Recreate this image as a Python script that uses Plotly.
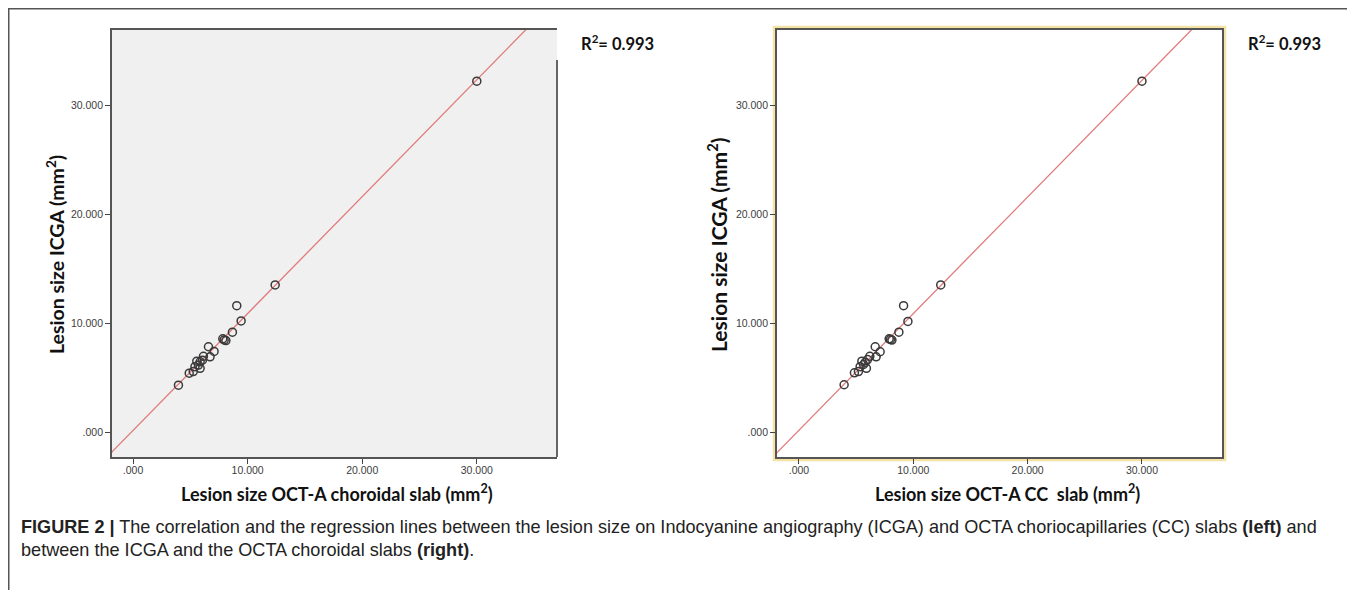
import numpy as np
import plotly.graph_objects as go

# ---- data ----
left_x = [3.96, 4.9, 5.25, 5.4, 5.7, 5.85, 5.56, 5.85, 6.05, 6.14, 6.72, 7.07, 6.58, 7.83, 8.1, 7.95, 8.67, 9.43, 9.05, 12.4, 30.0]
left_y = [4.3, 5.4, 5.55, 6.0, 6.15, 5.85, 6.5, 6.45, 6.6, 6.95, 6.9, 7.4, 7.83, 8.56, 8.4, 8.45, 9.17, 10.2, 11.6, 13.5, 32.2]
right_x = [3.95, 4.85, 5.2, 5.35, 5.65, 5.9, 5.5, 5.8, 6.0, 6.2, 6.75, 7.1, 6.67, 7.89, 8.13, 8.0, 8.74, 9.53, 9.15, 12.4, 30.0]
right_y = [4.34, 5.44, 5.55, 6.0, 6.2, 5.85, 6.5, 6.4, 6.65, 6.95, 6.9, 7.37, 7.83, 8.56, 8.44, 8.5, 9.17, 10.15, 11.6, 13.5, 32.2]

tick_vals = [0, 10, 20, 30]
tick_text = [".000", "10.000", "20.000", "30.000"]
r2_text = "R<sup>2</sup>= 0.993"
xtitle_left = "Lesion size OCT-A choroidal slab (mm<sup>2</sup>)"
xtitle_right = "Lesion size OCT-A CC  slab (mm<sup>2</sup>)"
ytitle = "Lesion size ICGA (mm<sup>2</sup>)"
caption_1 = ("<b>FIGURE 2 |</b> The correlation and the regression lines between the lesion size on Indocyanine "
             "angiography (ICGA) and OCTA choriocapillaries (CC) slabs <b>(left)</b> and")
caption_2 = "between the ICGA and the OCTA choroidal slabs <b>(right)</b>."

OFF = 8  # page body margin
W, H = 1355 - OFF, 590 - OFF

def px(x):
    return (x - OFF) / W

def py(y):
    return 1 - (y - OFF) / H

fig = go.Figure()

for xs, ys, xa, ya in [(left_x, left_y, "x", "y"), (right_x, right_y, "x2", "y2")]:
    slope, icpt = np.polyfit(xs, ys, 1)
    lx = np.array([-5.0, 45.0])
    fig.add_trace(go.Scatter(x=lx, y=slope * lx + icpt, mode="lines",
                             line=dict(color="#e07a7a", width=1.3),
                             xaxis=xa, yaxis=ya, showlegend=False, hoverinfo="skip"))
    fig.add_trace(go.Scatter(x=xs, y=ys, mode="markers",
                             marker=dict(symbol="circle-open", size=8, color="#3a3a3a",
                                         line=dict(width=1.5, color="#3a3a3a")),
                             xaxis=xa, yaxis=ya, showlegend=False))

tickfont = dict(family="Liberation Sans, Arial", size=10.5, color="#3c3c3c")
axis_common = dict(tickmode="array", tickvals=tick_vals, ticktext=tick_text,
                   ticks="outside", ticklen=5, tickwidth=1.2, tickcolor="#444",
                   showgrid=False, zeroline=False, tickfont=tickfont,
                   showline=True, linecolor="#555", linewidth=1.8)

fig.update_layout(
    width=W, height=H, margin=dict(l=0, r=0, t=0, b=0),
    paper_bgcolor="white", plot_bgcolor="#f0f0f0",
    xaxis=dict(domain=[px(112), px(557)], range=[-1.84, 37.0], anchor="y", mirror=True,
               ticklabelstandoff=-3, **axis_common),
    yaxis=dict(domain=[py(457), py(30)], range=[-2.29, 36.9], anchor="x", mirror=False, **axis_common),
    xaxis2=dict(domain=[px(777), px(1222)], range=[-1.92, 37.0], anchor="y2", mirror=True,
                ticklabelstandoff=-3, **axis_common),
    yaxis2=dict(domain=[py(457), py(30)], range=[-2.29, 36.9], anchor="x2", mirror=True, **axis_common),
)

shapes = []
# white background for the right panel
shapes.append(dict(type="rect", xref="x2 domain", yref="y2 domain", x0=0, x1=1, y0=0, y1=1,
                   fillcolor="white", line=dict(width=0), layer="below"))
# yellow outline around the right panel
shapes.append(dict(type="rect", xref="paper", yref="paper", x0=px(774), x1=px(1225),
                   y0=py(460), y1=py(27), line=dict(color="#f3e4a6", width=2.5), layer="below"))
# right border of left panel (partial)
shapes.append(dict(type="line", xref="x domain", yref="y domain", x0=1, x1=1, y0=0, y1=0.93,
                   line=dict(color="#555", width=1.8)))
# figure frame lines
shapes.append(dict(type="line", xref="paper", yref="paper", x0=0, x1=1, y0=1, y1=1,
                   line=dict(color="#555", width=3)))
shapes.append(dict(type="line", xref="paper", yref="paper", x0=0, x1=0, y0=1, y1=0,
                   line=dict(color="#555", width=3)))
fig.update_layout(shapes=shapes)

ann = []
ann.append(dict(text="<b>" + xtitle_left + "</b>", x=px(337), y=py(493), xref="paper", yref="paper",
                showarrow=False, font=dict(family="Lato, Open Sans, Arial", size=18, color="#111"),
                xanchor="center", yanchor="middle"))
ann.append(dict(text="<b>" + xtitle_right + "</b>", x=px(1007), y=py(493), xref="paper", yref="paper",
                showarrow=False, font=dict(family="Lato, Open Sans, Arial", size=18, color="#111"),
                xanchor="center", yanchor="middle"))
ann.append(dict(text="<b>" + ytitle + "</b>", x=px(55), y=py(255), xref="paper", yref="paper",
                showarrow=False, font=dict(family="Lato, Open Sans, Arial", size=19.5, color="#111"),
                textangle=-90, xanchor="center", yanchor="middle"))
ann.append(dict(text="<b>" + ytitle + "</b>", x=px(717), y=py(245), xref="paper", yref="paper",
                showarrow=False, font=dict(family="Lato, Open Sans, Arial", size=21, color="#111"),
                textangle=-90, xanchor="center", yanchor="middle"))
ann.append(dict(text="<b>" + r2_text + "</b>", x=px(579), y=py(43), xref="paper", yref="paper",
                showarrow=False, font=dict(family="Lato, Open Sans, Arial", size=16.5, color="#111"),
                xanchor="left", yanchor="middle"))
ann.append(dict(text="<b>" + r2_text + "</b>", x=px(1246), y=py(43), xref="paper", yref="paper",
                showarrow=False, font=dict(family="Lato, Open Sans, Arial", size=16.5, color="#111"),
                xanchor="left", yanchor="middle"))
cap_font = dict(family="Liberation Sans, Arial", size=18.1, color="#222")
ann.append(dict(text=caption_1, x=px(19), y=py(527), xref="paper", yref="paper", showarrow=False,
                font=cap_font, xanchor="left", yanchor="middle"))
ann.append(dict(text=caption_2, x=px(19), y=py(550), xref="paper", yref="paper", showarrow=False,
                font=cap_font, xanchor="left", yanchor="middle"))
fig.update_layout(annotations=ann)

fig.write_html("out.html")
